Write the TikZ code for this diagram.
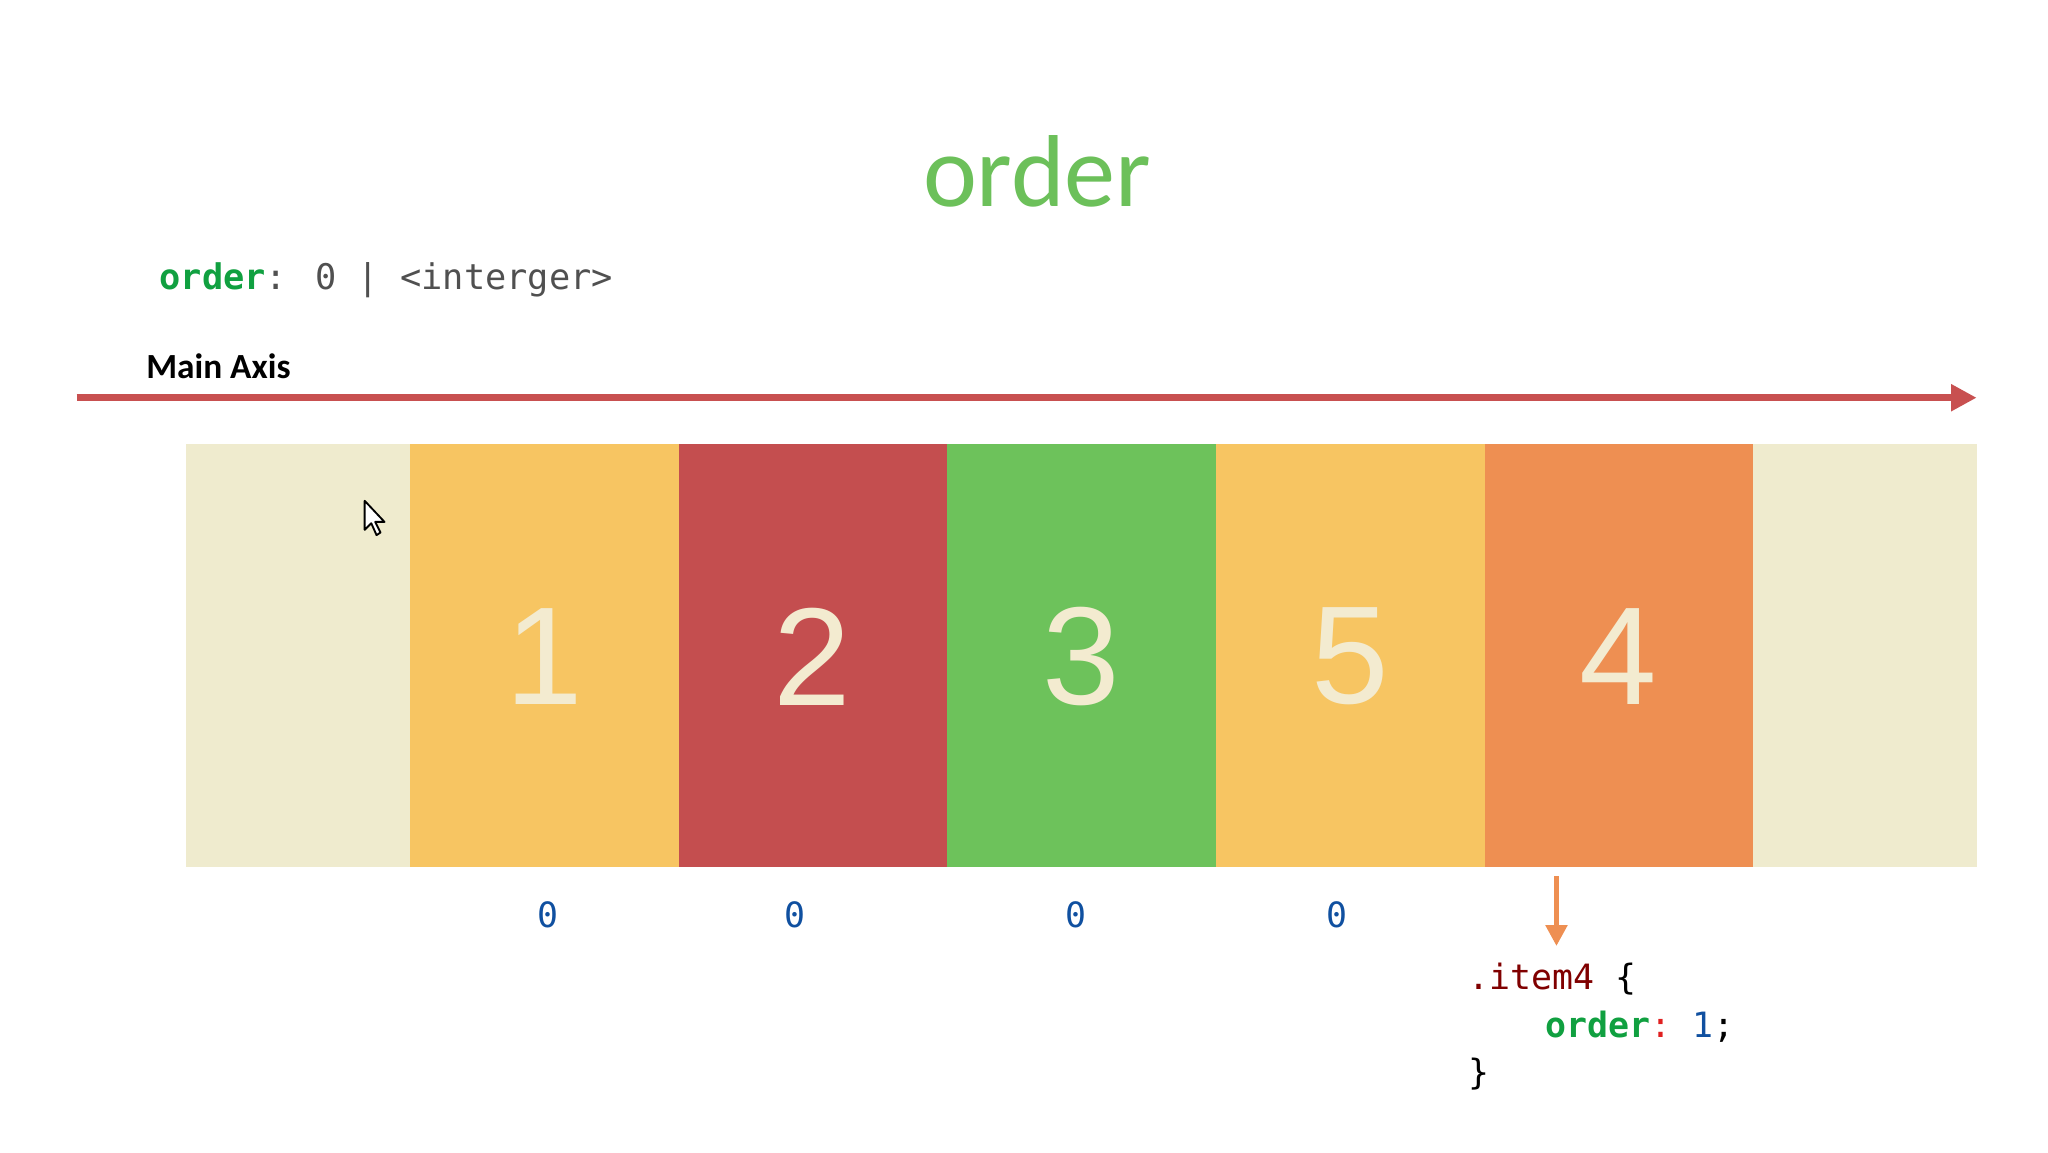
\documentclass[tikz,border=0pt]{standalone}
\usepackage{fontspec}
\setmainfont{Carlito}
\newfontfamily\codefont{DejaVu Sans Mono}
\newfontfamily\numfont{Liberation Sans}
\usetikzlibrary{arrows.meta}
\definecolor{tgreen}{HTML}{6CC05A}
\definecolor{cgreen}{HTML}{10A040}
\definecolor{cgray}{HTML}{505050}
\definecolor{axred}{HTML}{C85050}
\definecolor{beige}{HTML}{EFEBCE}
\definecolor{byellow}{HTML}{F7C562}
\definecolor{bred}{HTML}{C44E4F}
\definecolor{bgreen}{HTML}{6DC25B}
\definecolor{borange}{HTML}{EE8F52}
\definecolor{cream}{HTML}{F3EBD0}
\definecolor{cblue}{HTML}{1050A0}
\definecolor{cmaroon}{HTML}{800000}
\definecolor{cred}{HTML}{E02020}
\begin{document}
\begin{tikzpicture}[x=0.01cm,y=-0.01cm,
  box/.style={inner sep=0pt,outer sep=0pt},
  num/.style={font=\numfont\fontsize{30}{30}\selectfont,text=cream},
  zero/.style={font=\codefont\fontsize{7.5}{8}\selectfont,text=cblue},
  code/.style={font=\codefont\fontsize{7.5}{9}\selectfont,anchor=west,inner sep=0pt}]
\useasboundingbox[fill=white] (0,0) rectangle (1550,872);
\node[text=tgreen,font=\fontsize{22}{22}\selectfont] (title) at (785,130) {order};
\node[code,font=\codefont\fontsize{7.6}{9}\selectfont] (syn) at (120,212) {\textcolor{cgreen}{\bfseries order}\textcolor{cgray}{: 0 | <interger>}};
\node[anchor=west,inner sep=0pt,font=\bfseries\fontsize{7.6}{8}\selectfont] (axl) at (110,277) {Main Axis};
\coordinate (a0) at (58,301);
\coordinate (a1) at (1496,301);
\draw[axred,line width=1.6pt,-{Triangle[length=5.5pt,width=5.5pt]}] (a0) -- (a1);
\fill[beige] (141,336) rectangle (1496,656);
\fill[byellow] (310,336) rectangle (514,656);
\fill[bred] (514,336) rectangle (717,656);
\fill[bgreen] (717,336) rectangle (920,656);
\fill[byellow] (920,336) rectangle (1124,656);
\fill[borange] (1124,336) rectangle (1327,656);
\node[num] (n1) at (412,497) {1};
\node[num] (n2) at (615,497) {2};
\node[num] (n3) at (818,497) {3};
\node[num] (n5) at (1022,497) {5};
\node[num] (n4) at (1225,497) {4};
\node[zero] (z1) at (415,692) {0};
\node[zero] (z2) at (602,692) {0};
\node[zero] (z3) at (814,692) {0};
\node[zero] (z4) at (1012,692) {0};
\coordinate (o0) at (1178,663);
\coordinate (o1) at (1178,716);
\draw[borange,line width=1.2pt,-{Triangle[length=4.5pt,width=4.5pt]}] (o0) -- (o1);
\node[code] (c1) at (1111,741) {\textcolor{cmaroon}{.item4}\textcolor{black}{\ \{}};
\node[code] (c2) at (1169,777) {\textcolor{cgreen}{\bfseries order}\textcolor{cred}{:}\ \textcolor{cblue}{1}\textcolor{black}{;}};
\node[code] (c3) at (1111,813) {\}};
\draw[black,fill=white,line width=0.4pt,line join=round] (276,379) -- (276,401) -- (281,396) -- (285,405) -- (288,403) -- (284,395) -- (291,395) -- cycle;
\end{tikzpicture}
\end{document}
